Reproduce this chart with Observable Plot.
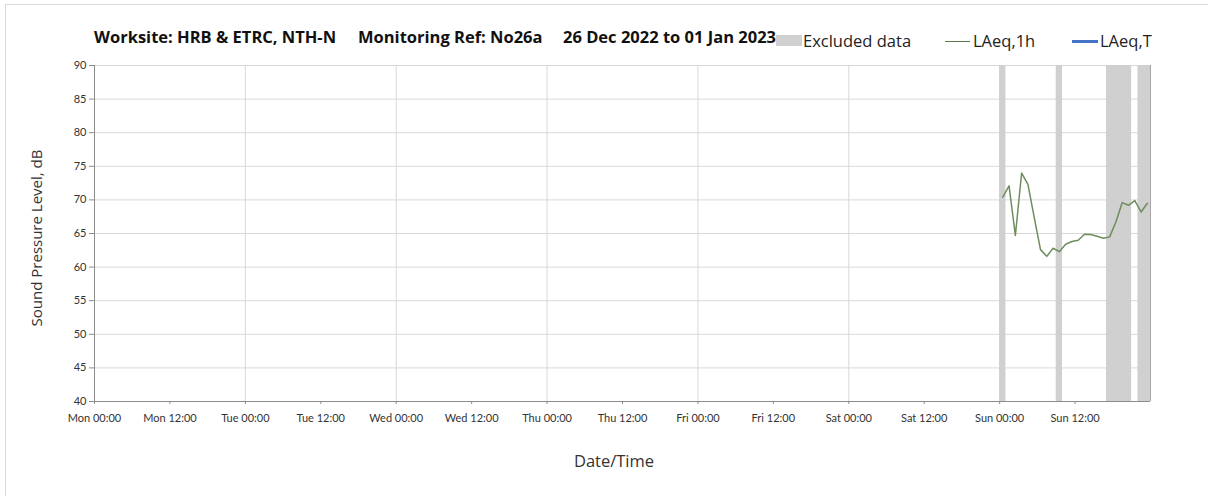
<!DOCTYPE html>
<html>
<head>
<meta charset="utf-8">
<script src="https://cdn.jsdelivr.net/npm/d3@7"></script>
<script src="https://cdn.jsdelivr.net/npm/@observablehq/plot@0.6"></script>
<style>
  html, body { margin: 0; padding: 0; background: #fff; }
  #wrap { position: relative; width: 1208px; height: 496px; overflow: hidden; }
  #frame { position: absolute; left: 5px; top: 4px; width: 1300px; height: 600px; border-left: 1px solid #d9d9d9; border-top: 1px solid #d9d9d9; }
  #header { position: absolute; left: 0; top: 0; width: 1208px; height: 56px; }
  .t { position: absolute; font-family: "Open Sans", sans-serif; font-weight: bold; font-size: 16.5px; color: #111; white-space: pre; top: 25px; letter-spacing: 0px; }
  .lg { position: absolute; font-family: "Open Sans", sans-serif; font-size: 16.5px; color: #222; top: 29px; }
  .sw { position: absolute; }
  #chart { position: absolute; left: 0; top: 56px; }
  .axt { position: absolute; font-family: "Open Sans", sans-serif; color: #333; white-space: nowrap; }
</style>
</head>
<body>
<div id="wrap">
  <div id="frame"></div>
  <div id="header"></div>
  <div id="chart"></div>
  <div class="axt" id="xt" style="left:614px; top:460px; font-size:16.5px; transform: translate(-50%,-50%);"></div>
  <div class="axt" id="yt" style="left:36px; top:238px; font-size:15px; transform: translate(-50%,-50%) rotate(-90deg);"></div>
</div>
<script>
// ---- Data ----
const titleParts = ["Worksite: HRB & ETRC, NTH-N", "Monitoring Ref: No26a", "26 Dec 2022 to 01 Jan 2023"];
const legendLabels = ["Excluded data", "LAeq,1h", "LAeq,T"];
const xAxisTitle = "Date/Time";
const yAxisTitle = "Sound Pressure Level, dB";

const xTickLabels = ["Mon 00:00","Mon 12:00","Tue 00:00","Tue 12:00","Wed 00:00","Wed 12:00","Thu 00:00","Thu 12:00","Fri 00:00","Fri 12:00","Sat 00:00","Sat 12:00","Sun 00:00","Sun 12:00"];
const xTickTimes = ["2022-12-26T00:00Z","2022-12-26T12:00Z","2022-12-27T00:00Z","2022-12-27T12:00Z","2022-12-28T00:00Z","2022-12-28T12:00Z","2022-12-29T00:00Z","2022-12-29T12:00Z","2022-12-30T00:00Z","2022-12-30T12:00Z","2022-12-31T00:00Z","2022-12-31T12:00Z","2023-01-01T00:00Z","2023-01-01T12:00Z"];
const xDomain = ["2022-12-26T00:00Z", "2023-01-02T00:00Z"];
const yTicks = [40,45,50,55,60,65,70,75,80,85,90];
const yDomain = [40, 90];

// LAeq,1h hourly values (Sun 01 Jan 2023)
const laeqTimes = ["2023-01-01T00:30Z","2023-01-01T01:30Z","2023-01-01T02:30Z","2023-01-01T03:30Z","2023-01-01T04:30Z","2023-01-01T05:30Z","2023-01-01T06:30Z","2023-01-01T07:30Z","2023-01-01T08:30Z","2023-01-01T09:30Z","2023-01-01T10:30Z","2023-01-01T11:30Z","2023-01-01T12:30Z","2023-01-01T13:30Z","2023-01-01T14:30Z","2023-01-01T15:30Z","2023-01-01T16:30Z","2023-01-01T17:30Z","2023-01-01T18:30Z","2023-01-01T19:30Z","2023-01-01T20:30Z","2023-01-01T21:30Z","2023-01-01T22:30Z","2023-01-01T23:30Z"];
const laeqValues = [70.4,72.1,64.7,74.0,72.3,67.4,62.6,61.6,62.8,62.3,63.4,63.8,64.0,64.9,64.85,64.6,64.3,64.5,66.7,69.6,69.2,69.9,68.2,69.5];

// Excluded data periods
const excludedStart = ["2023-01-01T00:00Z","2023-01-01T09:00Z","2023-01-01T17:00Z","2023-01-01T22:00Z"];
const excludedEnd   = ["2023-01-01T01:00Z","2023-01-01T10:00Z","2023-01-01T21:00Z","2023-01-02T00:00Z"];

// ---- Build ----
const laeq = laeqTimes.map((t, i) => ({time: new Date(t), value: laeqValues[i]}));
const excluded = excludedStart.map((s, i) => ({x1: new Date(s), x2: new Date(excludedEnd[i])}));
const ticks = xTickTimes.map(t => new Date(t));
const labelOf = new Map(ticks.map((d, i) => [+d, xTickLabels[i]]));
const dayTicks = ticks.filter((d, i) => i % 2 === 0 && i > 0);
const x0 = new Date(xDomain[0]), x1 = new Date(xDomain[1]);

const chart = Plot.plot({
  width: 1208,
  height: 440,
  marginLeft: 94,
  marginRight: 58,
  marginTop: 9,
  marginBottom: 95,
  style: {fontFamily: "Lato, 'Open Sans', sans-serif", fontSize: "11px", color: "#333", background: "transparent"},
  x: {type: "utc", domain: [x0, x1]},
  y: {domain: yDomain},
  marks: [
    Plot.ruleY(yTicks.filter(v => v > 40), {stroke: "#d9d9d9", strokeWidth: 1}),
    Plot.ruleX(dayTicks, {stroke: "#d9d9d9", strokeWidth: 1}),
    Plot.rectX(excluded, {x1: "x1", x2: "x2", y1: yDomain[0], y2: yDomain[1], fill: "#d0d0d0"}),
    Plot.ruleX([x1], {stroke: "#a6a6a6", strokeWidth: 1}),
    Plot.line(laeq, {x: "time", y: "value", stroke: "#6e8d5e", strokeWidth: 1.5}),
    Plot.ruleX([x0], {stroke: "#8c8c8c", strokeWidth: 1}),
    Plot.ruleY([yDomain[0]], {stroke: "#8c8c8c", strokeWidth: 1}),
    Plot.axisY({ticks: yTicks, tickSize: 5, tickPadding: 3, stroke: "#8c8c8c", fill: "#333", label: null, tickFormat: d => String(d)}),
    Plot.axisX({ticks: ticks, tickSize: 3, tickPadding: 10, stroke: "#8c8c8c", fill: "#333", label: null, tickFormat: d => labelOf.get(+d)})
  ]
});
document.getElementById("chart").appendChild(chart);

// ---- Header: title and legend ----
const header = document.getElementById("header");
const titleX = [94, 358, 563];
titleParts.forEach((t, i) => {
  const s = document.createElement("div");
  s.className = "t"; s.style.left = titleX[i] + "px"; s.textContent = t;
  header.appendChild(s);
});
function addSwatch(left, top, w, h, color) {
  const d = document.createElement("div");
  d.className = "sw";
  Object.assign(d.style, {left: left + "px", top: top + "px", width: w + "px", height: h + "px", background: color});
  header.appendChild(d);
}
function addLegendText(left, text) {
  const d = document.createElement("div");
  d.className = "lg"; d.style.left = left + "px"; d.textContent = text;
  header.appendChild(d);
}
addSwatch(776, 35, 26, 11, "#d0d0d0");
addLegendText(803, legendLabels[0]);
addSwatch(945, 41, 25, 1, "#5c7a4c");
addLegendText(973, legendLabels[1]);
addSwatch(1072, 40, 26, 2.5, "#4472c4");
addLegendText(1100, legendLabels[2]);

document.getElementById("xt").textContent = xAxisTitle;
document.getElementById("yt").textContent = yAxisTitle;
</script>
</body>
</html>
